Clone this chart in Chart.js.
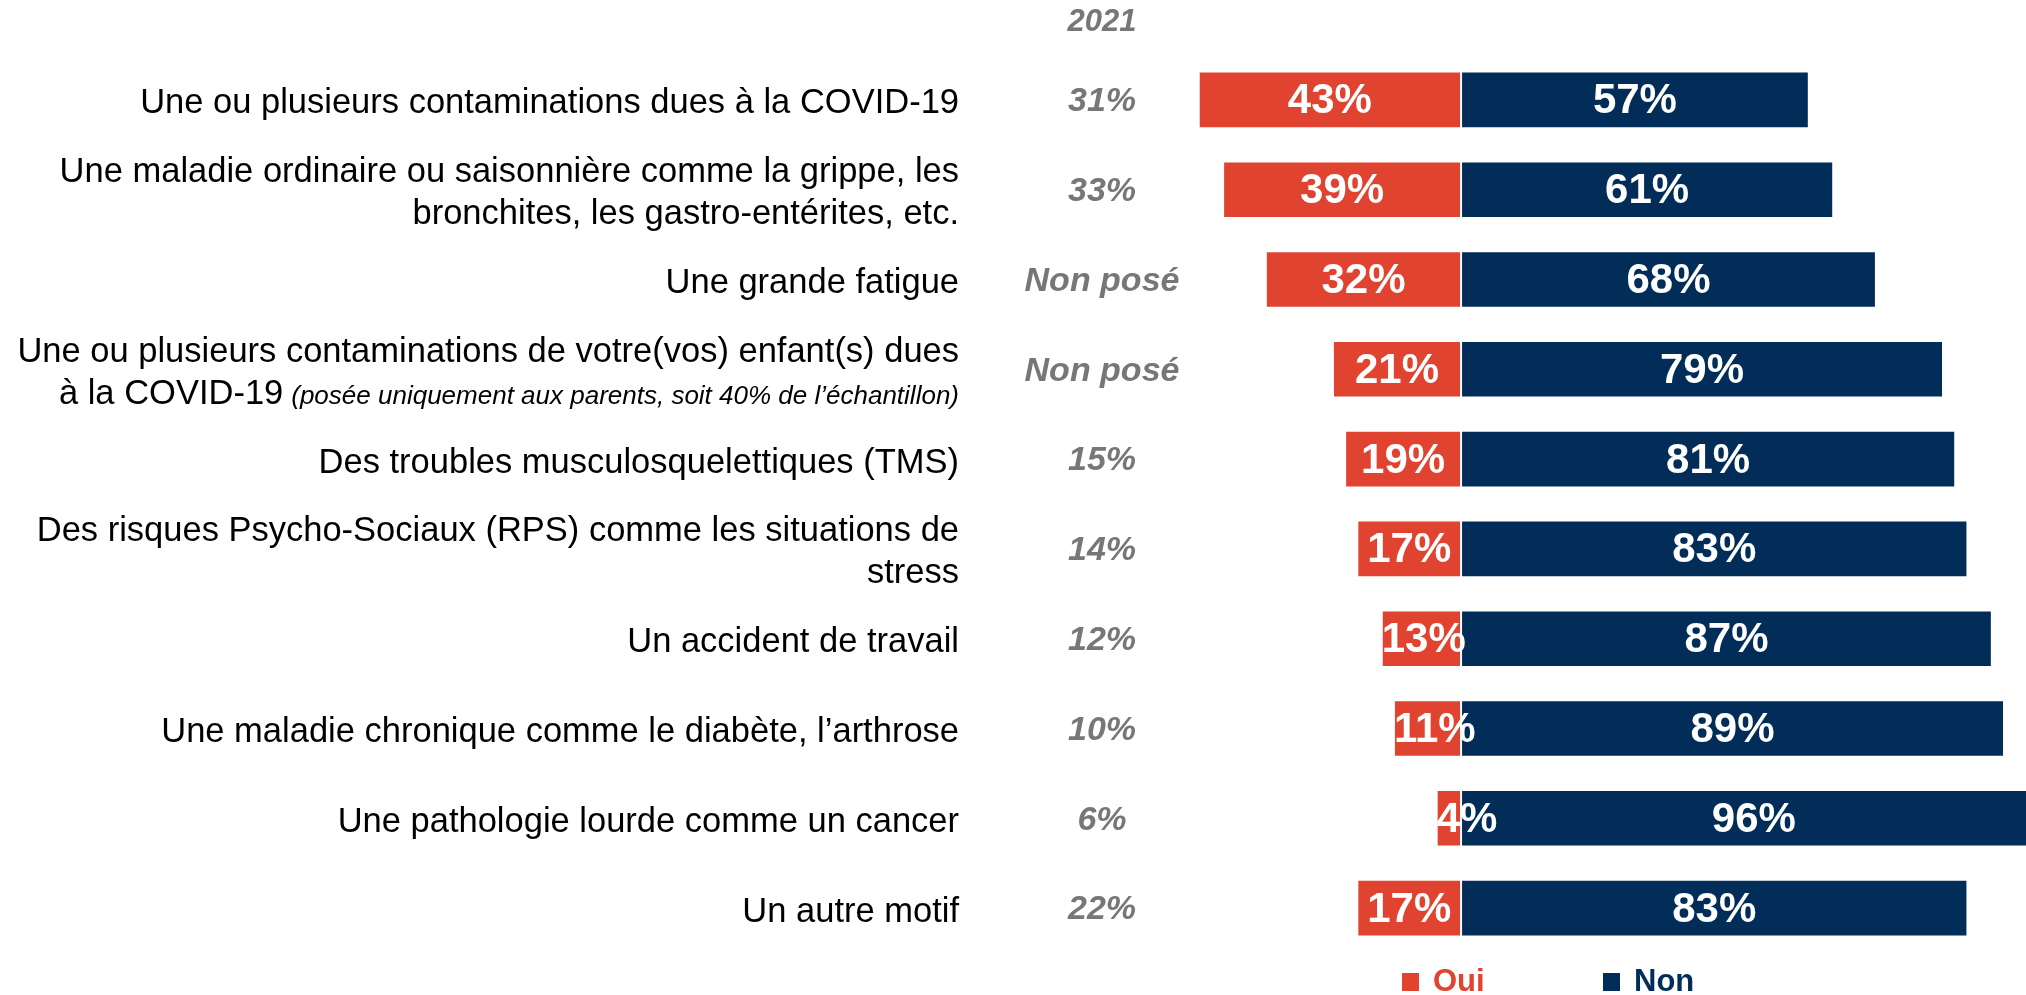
<!DOCTYPE html>
<html>
<head>
<meta charset="utf-8">
<script src="https://cdn.jsdelivr.net/npm/chart.js@4"></script>
<style>
    html, body { margin: 0; padding: 0; background: #ffffff; }
    canvas { display: block; }
</style>
</head>
<body>
<canvas id="chart" width="2026" height="995"></canvas>
<script>
// Categories (one array entry per text line)
const categories = [
    ['Une ou plusieurs contaminations dues à la COVID-19'],
    ['Une maladie ordinaire ou saisonnière comme la grippe, les', 'bronchites, les gastro-entérites, etc.'],
    ['Une grande fatigue'],
    ['Une ou plusieurs contaminations de votre(vos) enfant(s) dues', 'à la COVID-19'],
    ['Des troubles musculosquelettiques (TMS)'],
    ['Des risques Psycho-Sociaux (RPS) comme les situations de', 'stress'],
    ['Un accident de travail'],
    ['Une maladie chronique comme le diabète, l’arthrose'],
    ['Une pathologie lourde comme un cancer'],
    ['Un autre motif']
];
// Italic note appended to the last line of a category
const notes = [null, null, null, '(posée uniquement aux parents, soit 40% de l’échantillon)', null, null, null, null, null, null];

const ouiValues = [43, 39, 32, 21, 19, 17, 13, 11, 4, 17];
const nonValues = [57, 61, 68, 79, 81, 83, 87, 89, 96, 83];

const previousYear = '2021';
const previousValues = ['31%', '33%', 'Non posé', 'Non posé', '15%', '14%', '12%', '10%', '6%', '22%'];

const seriesNames = ['Oui', 'Non'];
const RED = '#e0432f';
const NAVY = '#022d58';
const GREY = '#777777';
const FONT = "'Liberation Sans', Arial, sans-serif";

// Labels inside the bars
const barLabelsPlugin = {
    id: 'barLabels',
    afterDatasetsDraw(chart) {
        const ctx = chart.ctx;
        ctx.save();
        ctx.font = 'bold 42px ' + FONT;
        ctx.fillStyle = '#ffffff';
        ctx.textAlign = 'center';
        ctx.textBaseline = 'middle';
        chart.data.datasets.forEach((ds, di) => {
            const meta = chart.getDatasetMeta(di);
            meta.data.forEach((el, i) => {
                const text = Math.abs(ds.data[i]) + '%';
                const w = ctx.measureText(text).width;
                const left = Math.min(el.x, el.base);
                const right = Math.max(el.x, el.base);
                let cx = (left + right) / 2;
                // small red bars: keep the label from running off the left edge
                if (di === 0) cx = Math.max(cx, left + w / 2);
                ctx.fillText(text, cx, el.y + 2);
            });
        });
        ctx.restore();
    }
};

// Category names, 2021 column and legend
const sideTextPlugin = {
    id: 'sideText',
    afterDraw(chart) {
        const ctx = chart.ctx;
        const yScale = chart.scales.y;
        const textRight = 959;
        const prevX = 1102;
        const lineH = 42;
        ctx.save();
        ctx.textBaseline = 'middle';

        categories.forEach((lines, i) => {
            const cy = yScale.getPixelForValue(i) + 4;
            lines.forEach((line, li) => {
                const y = cy + (li - (lines.length - 1) / 2) * lineH;
                let right = textRight;
                if (notes[i] && li === lines.length - 1) {
                    ctx.font = 'italic 26px ' + FONT;
                    ctx.textAlign = 'right';
                    ctx.fillStyle = '#000000';
                    ctx.fillText(notes[i], right, y + 2);
                    right -= ctx.measureText(notes[i]).width + 8;
                }
                ctx.font = '34.5px ' + FONT;
                ctx.textAlign = 'right';
                ctx.fillStyle = '#000000';
                ctx.fillText(line, right, y);
            });

            ctx.font = 'bold italic 34px ' + FONT;
            ctx.textAlign = 'center';
            ctx.fillStyle = GREY;
            ctx.fillText(previousValues[i], prevX, yScale.getPixelForValue(i) + 2);
        });

        ctx.font = 'bold italic 31px ' + FONT;
        ctx.textAlign = 'center';
        ctx.fillStyle = GREY;
        ctx.fillText(previousYear, prevX, 22);

        // legend
        const legendItems = [
            { label: seriesNames[0], color: RED, x: 1402 },
            { label: seriesNames[1], color: NAVY, x: 1603 }
        ];
        ctx.textBaseline = 'alphabetic';
        ctx.textAlign = 'left';
        ctx.font = 'bold 31px ' + FONT;
        legendItems.forEach(item => {
            ctx.fillStyle = item.color;
            ctx.fillRect(item.x, 973, 17, 18);
            ctx.fillText(item.label, item.x + 31, 991);
        });
        ctx.restore();
    }
};

new Chart(document.getElementById('chart'), {
    type: 'bar',
    data: {
        labels: categories.map(c => c.join(' ')),
        datasets: [
            {
                label: seriesNames[0],
                data: ouiValues.map(v => -v),
                backgroundColor: RED,
                borderColor: '#ffffff',
                borderWidth: 1,
                borderSkipped: false,
                barPercentage: 0.63,
                categoryPercentage: 1
            },
            {
                label: seriesNames[1],
                data: nonValues,
                backgroundColor: NAVY,
                borderColor: '#ffffff',
                borderWidth: 1,
                borderSkipped: false,
                barPercentage: 0.63,
                categoryPercentage: 1
            }
        ]
    },
    options: {
        indexAxis: 'y',
        responsive: false,
        animation: false,
        layout: {
            padding: { left: 1095, right: 0, top: 55, bottom: 42 }
        },
        plugins: {
            legend: { display: false },
            tooltip: { enabled: false }
        },
        scales: {
            x: {
                stacked: true,
                display: false,
                min: -60,
                max: 92.6
            },
            y: {
                stacked: true,
                display: false
            }
        }
    },
    plugins: [barLabelsPlugin, sideTextPlugin]
});
</script>
</body>
</html>
